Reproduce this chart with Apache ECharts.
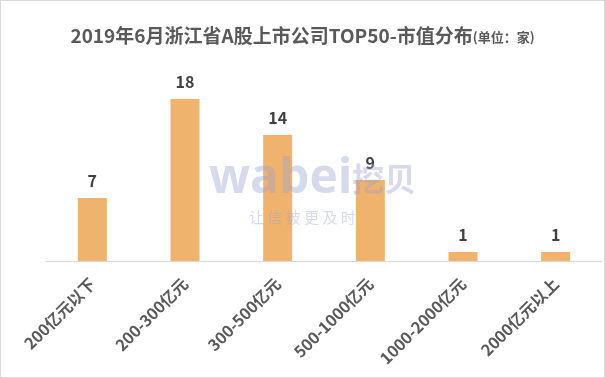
<!DOCTYPE html>
<html><head><meta charset="utf-8">
<script src="https://cdn.jsdelivr.net/npm/echarts@6/dist/echarts.min.js"></script>
<style>html,body{margin:0;padding:0;}#c{width:603px;height:376px;border:1px solid #d9d9d9;}</style>
</head><body><div id="c"></div>
<script>
const categories = ['200亿元以下','200-300亿元','300-500亿元','500-1000亿元','1000-2000亿元','2000亿元以上'];
const counts = [7, 18, 14, 9, 1, 1];
const chart = echarts.init(document.getElementById('c'));
const ff = '"Noto Sans CJK SC", "Noto Sans", sans-serif';
chart.setOption({
  animation: false,
  backgroundColor: '#fff',
  title: {
    text: '{m|2019年6月浙江省A股上市公司TOP50-市值分布}{u|(单位：家)}',
    left: 'center', top: 20,
    textStyle: { rich: {
      m: { fontSize: 19, fontWeight: 'bold', color: '#595959', fontFamily: ff },
      u: { fontSize: 13, fontWeight: 'bold', color: '#595959', fontFamily: ff, padding: [4,0,0,0] }
    } }
  },
  grid: { left: 45, right: 2, top: 80, bottom: 116 },
  xAxis: {
    type: 'category', data: categories,
    axisLine: { lineStyle: { color: '#d9d9d9', width: 1 } },
    axisTick: { show: false },
    axisLabel: { rotate: 45, interval: 0, color: '#595959', fontSize: 16, fontWeight: 'bold', fontFamily: ff, margin: 20 }
  },
  yAxis: { type: 'value', min: 0, max: 20, show: false, splitLine: { show: false } },
  series: [{
    type: 'bar', data: counts, barWidth: 29,
    itemStyle: { color: '#F0B36D' },
    label: { show: true, position: 'top', distance: 9, color: '#404040', fontSize: 16, fontWeight: 'bold', fontFamily: ff }
  }],
  graphic: [
    { type: 'text', left: 208, top: 154, z: 100, style: { text: 'wabei', fill: '#9aa1d2', opacity: 0.4, font: 'bold 48px "Open Sans", "Liberation Sans", sans-serif' } },
    { type: 'text', left: 351, top: 162, z: 100, style: { text: '挖贝', fill: '#9aa1d2', opacity: 0.4, font: 'bold 32px "Noto Sans CJK SC", sans-serif' } },
    { type: 'text', left: 248, top: 209, z: 100, style: { text: '让 信 披 更 及 时', fill: '#9aa1d2', opacity: 0.4, font: '15px "Noto Sans CJK SC", sans-serif' } }
  ]
});
</script></body></html>
